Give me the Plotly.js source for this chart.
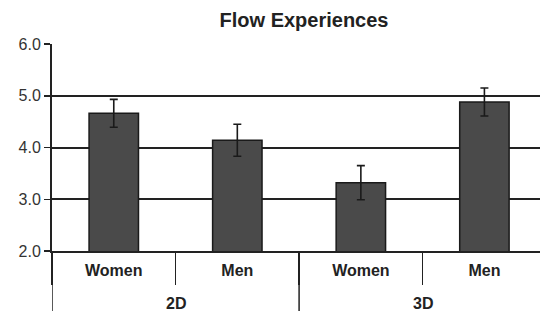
<!DOCTYPE html>
<html>
<head>
<meta charset="utf-8">
<script src="https://cdn.plot.ly/plotly-3.0.1.min.js"></script>
<style>html,body{margin:0;padding:0;background:#fff;}#chart{width:540px;height:311px;}</style>
</head>
<body>
<div id="chart"></div>
<script>
const groups = ["2D", "2D", "3D", "3D"];
const genders = ["Women", "Men", "Women", "Men"];
const means = [4.66, 4.14, 3.32, 4.88];
const errors = [0.27, 0.31, 0.33, 0.27];
const yTicks = [2, 3, 4, 5, 6];

// unique category per bar, labelled with the gender
const cats = groups.map((g, i) => g + " " + genders[i]);

const trace = {
  type: "bar",
  x: cats,
  y: means,
  width: 0.4,
  marker: {color: "#4a4a4a", line: {color: "#1a1a1a", width: 1.5}},
  error_y: {type: "data", array: errors, visible: true, color: "#1a1a1a", thickness: 1.6, width: 4},
  hoverinfo: "none"
};

// group labels and dividers derived from the group array
const uniqueGroups = [...new Set(groups)];
const annotations = [];
const shapes = [];
uniqueGroups.forEach((g) => {
  const idx = groups.map((v, i) => v === g ? i : -1).filter(i => i >= 0);
  const mid = (idx[0] + idx[idx.length - 1]) / 2;
  annotations.push({
    x: mid, xref: "x", y: -0.252, yref: "paper", yanchor: "middle",
    text: "<b>" + g + "</b>", showarrow: false,
    font: {size: 16, color: "#222", family: "Liberation Sans, Arial, sans-serif"}
  });
  const start = idx[0] - 0.5;
  shapes.push({type: "line", xref: "x", yref: "paper", x0: start, x1: start, y0: 0, y1: -0.32,
    line: {color: "#222", width: 1.5}});
});

const layout = {
  width: 540, height: 311,
  margin: {l: 52, r: 0, t: 44, b: 60},
  paper_bgcolor: "#fff", plot_bgcolor: "#fff",
  showlegend: false,
  font: {family: "Liberation Sans, Arial, sans-serif", color: "#222"},
  title: {text: "<b>Flow Experiences</b>", font: {size: 20, color: "#222"}, x: 0.563, xanchor: "center", y: 0.935, yanchor: "middle"},
  xaxis: {
    type: "category", categoryorder: "array", categoryarray: cats,
    tickvals: cats, ticktext: genders,
    range: [-0.5, cats.length - 0.55],
    showline: true, linecolor: "#222", linewidth: 2,
    ticks: "outside", tickson: "boundaries", ticklen: 32, tickwidth: 1.5, tickcolor: "#222",
    ticklabelstandoff: 4,
    tickfont: {size: 16, color: "#222", family: "Liberation Sans, Arial, sans-serif", weight: "bold"},
    showgrid: false, fixedrange: true
  },
  yaxis: {
    range: [2, 6], tickvals: yTicks, tickformat: ".1f",
    showline: true, linecolor: "#222", linewidth: 2,
    ticks: "outside", ticklen: 6, tickwidth: 1.5, tickcolor: "#222",
    showgrid: true, gridcolor: "#222", gridwidth: 2,
    zeroline: false,
    tickfont: {size: 16, color: "#333"},
    fixedrange: true
  },
  annotations: annotations,
  shapes: shapes
};

Plotly.newPlot("chart", [trace], layout, {staticPlot: true, displayModeBar: false});
</script>
</body>
</html>
